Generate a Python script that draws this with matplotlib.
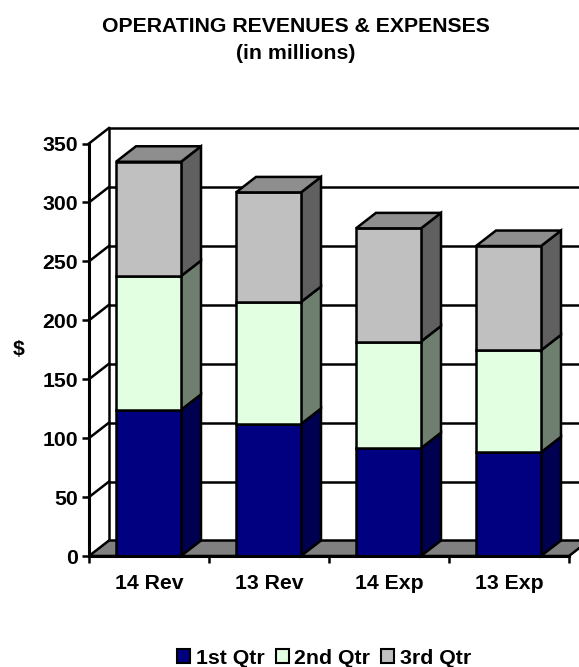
import matplotlib
matplotlib.use("Agg")
import matplotlib.pyplot as plt
from matplotlib.patches import Polygon, Patch

plt.rcParams['font.family'] = ['Liberation Sans', 'DejaVu Sans']
plt.rcParams['font.weight'] = 'bold'

categories = ["14 Rev", "13 Rev", "14 Exp", "13 Exp"]
qtr1 = [124, 112, 91.5, 88]
qtr2 = [113.5, 103.5, 90.5, 86.5]
qtr3 = [97, 93, 96, 88.5]
series_names = ["1st Qtr", "2nd Qtr", "3rd Qtr"]

front_colors = ["#000080", "#E2FFE2", "#C0C0C0"]
side_colors = ["#000050", "#6F7F6F", "#606060"]
top_color = "#8E8E8E"
floor_color = "#808080"

W, H = 579, 667
FS = 15.3
fig = plt.figure(figsize=(W / 100, H / 100), dpi=100)

# Axes frame in pixels: the front plane of the 3-D box
left, right, y_zero, y_max = 89, 569, 556, 143.5
ax = fig.add_axes([left / W, 1 - y_zero / H, (right - left) / W, (y_zero - y_max) / H])
ax.set_xlim(0, len(categories))
ax.set_ylim(0, 350)

# Oblique depth expressed in data units
depth_x = 20 / 120
depth_y = 15.5 * 350 / (y_zero - y_max)
LW = 1.8

ticks = list(range(0, 351, 50))

# Back wall gridlines and the diagonals on the left wall
for t in ticks[1:]:
    ax.plot([depth_x, len(categories) + depth_x], [t + depth_y, t + depth_y],
            color="black", lw=LW, zorder=1, clip_on=False, solid_capstyle="butt")
    ax.plot([0, depth_x], [t, t + depth_y], color="black", lw=LW, zorder=1, clip_on=False)
ax.plot([depth_x, depth_x], [depth_y, 350 + depth_y], color="black", lw=LW, zorder=1, clip_on=False)

# Floor
ax.add_patch(Polygon([(0, 0), (len(categories), 0), (len(categories) + depth_x, depth_y), (depth_x, depth_y)],
                     closed=True, facecolor=floor_color, edgecolor="black", linewidth=LW,
                     zorder=1.5, clip_on=False))

# Stacked prisms, drawn from the bottom upward
bar_width = 65 / 120
gap = (1 - bar_width) / 2 - 0.5 / 120
z = 2
for i, _ in enumerate(categories):
    x0 = i + gap
    x1 = x0 + bar_width
    base = 0
    for values, fc, sc in zip((qtr1, qtr2, qtr3), front_colors, side_colors):
        top = base + values[i]
        for pts, face in (
            ([(x1, base), (x1 + depth_x, base + depth_y), (x1 + depth_x, top + depth_y), (x1, top)], sc),
            ([(x0, base), (x1, base), (x1, top), (x0, top)], fc),
        ):
            ax.add_patch(Polygon(pts, closed=True, facecolor=face, edgecolor="black", linewidth=LW,
                                 joinstyle="miter", zorder=z, clip_on=False))
            z += 0.01
        base = top
    ax.add_patch(Polygon([(x0, base), (x1, base), (x1 + depth_x, base + depth_y), (x0 + depth_x, base + depth_y)],
                         closed=True, facecolor=top_color, edgecolor="black", linewidth=LW,
                         joinstyle="miter", zorder=z, clip_on=False))
    z += 0.01

# Axis lines and ticks
for s in ("top", "right"):
    ax.spines[s].set_visible(False)
ax.spines["left"].set_linewidth(2.2)
ax.spines["bottom"].set_linewidth(2.2)
ax.spines["left"].set_zorder(50)
ax.spines["bottom"].set_zorder(50)
ax.patch.set_visible(False)

ax.set_yticks(ticks)
ax.set_xticks(range(len(categories) + 1))
ax.set_xticklabels([])
ax.set_xticks([i + 0.5 for i in range(len(categories))], minor=True)
ax.set_xticklabels(categories, minor=True, fontsize=FS, fontweight="bold")
ax.tick_params(axis="x", which="major", length=5, width=1.8, direction="out")
ax.tick_params(axis="x", which="minor", length=0, pad=13)
ax.tick_params(axis="y", length=5, width=1.8, direction="out", labelsize=FS, pad=3)

fig.text(295.5 / W, 1 - 32 / H, "OPERATING REVENUES & EXPENSES", ha="center", va="baseline", fontsize=FS, fontweight="bold")
fig.text(295.5 / W, 1 - 59 / H, "(in millions)", ha="center", va="baseline", fontsize=FS, fontweight="bold")
fig.text(18.5 / W, 1 - 350 / H, "$", ha="center", va="center", fontsize=FS, fontweight="bold")

handles = [Patch(facecolor=c, edgecolor="black", linewidth=1.5) for c in front_colors]
fig.legend(handles, series_names, loc="center", bbox_to_anchor=(324 / W, 1 - 658 / H), ncol=3, frameon=False,
           handlelength=0.62, handleheight=0.62, handletextpad=0.25, columnspacing=0.52, borderpad=0,
           prop={"weight": "bold", "size": FS})

fig.savefig("out.png", dpi=100)
